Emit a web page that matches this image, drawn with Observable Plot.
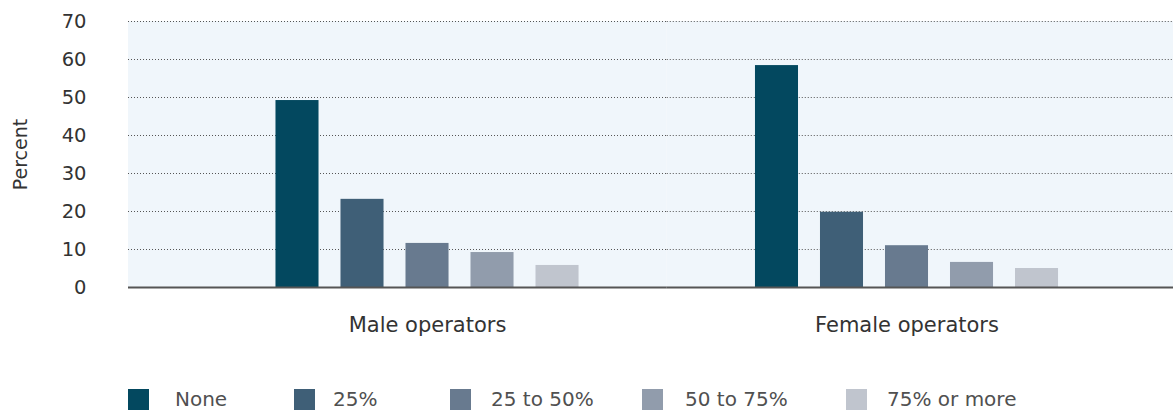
<!DOCTYPE html>
<html><head><meta charset="utf-8">
<script src="https://cdn.jsdelivr.net/npm/d3@7"></script>
<script src="https://cdn.jsdelivr.net/npm/@observablehq/plot@0.6"></script>
<style>
body{margin:0;background:#fff;font-family:"DejaVu Sans",sans-serif;}
#chart{position:relative;width:1173px;height:412px;overflow:hidden;}
#chart svg{position:absolute;left:0;top:0;overflow:visible;}
.legend{position:absolute;top:387px;left:128px;display:flex;align-items:center;font-size:20px;color:#505050;}
.item{display:flex;align-items:center;}
.sw{width:21px;height:21px;flex:none;}
</style></head><body><div id="chart"></div>
<script>
const groups = ["Male operators", "Female operators"];
const shares = ["None", "25%", "25 to 50%", "50 to 75%", "75% or more"];
const maleValues = [49.2, 23.2, 11.6, 9.2, 5.8];
const femaleValues = [58.4, 19.8, 11.0, 6.6, 5.0];
const colors = ["#03485f", "#3f5f77", "#687a8f", "#919cac", "#c0c5ce"];
const yTicks = [0, 10, 20, 30, 40, 50, 60, 70];
const yLabel = "Percent";

const data = [];
shares.forEach((s, i) => data.push({group: groups[0], share: s, value: maleValues[i]}));
shares.forEach((s, i) => data.push({group: groups[1], share: s, value: femaleValues[i]}));

// layout of the facet bands inside the frame (frame: 128..1173)
const W = 1173, ML = 128, MR = 0;
const fxPadOuter = 0.0897, fxAlign = 0.689;
const span = W - ML - MR;
const step = span / (2 + 2 * fxPadOuter);
const bandStart = ML + (span - 2 * step) * fxAlign;
const extLeft = bandStart - ML;
const extRight = (W - MR) - (bandStart + 2 * step);

const gridFor = (g) => yTicks.filter(d => d > 0).map(v => ({group: g, v}));
const baseFor = (g) => [{group: g, v: 0}];
const edgeInsets = (g) => ({
  insetLeft: g === groups[0] ? -extLeft : 0,
  insetRight: g === groups[1] ? -extRight : 0
});

const plot = Plot.plot({
  width: W,
  height: 350,
  marginTop: 21,
  marginBottom: 63,
  marginLeft: ML,
  marginRight: MR,
  style: {fontFamily: "'DejaVu Sans', sans-serif", background: "transparent"},
  fx: {domain: groups, paddingInner: 0, paddingOuter: fxPadOuter, align: fxAlign, axis: null, label: null, round: false},
  x: {domain: shares, axis: null, paddingInner: 0.338, paddingOuter: 1.357, align: 0.5, round: false},
  y: {domain: [0, 70], axis: null},
  color: {domain: shares, range: colors},
  marks: [
    ...groups.map(g => Plot.rect([{group: g}], Object.assign({fx: "group", fill: "#f0f6fb"}, edgeInsets(g)))),
    ...groups.map(g => Plot.ruleY(gridFor(g), Object.assign({fx: "group", y: "v", stroke: "#555", strokeWidth: 1.1, strokeDasharray: "1,2"}, edgeInsets(g)))),
    Plot.barY(data, {fx: "group", x: "share", y: "value", fill: "share"}),
    ...groups.map(g => Plot.ruleY(baseFor(g), Object.assign({fx: "group", y: "v", stroke: "#555", strokeWidth: 2.2}, edgeInsets(g)))),
    Plot.axisY({ticks: yTicks, tickSize: 0, tickPadding: extLeft + 42, fontSize: 19.5, fill: "#333", stroke: "#333", strokeWidth: 0.35, label: null}),
    Plot.text([{group: groups[0]}], {fx: "group", text: () => yLabel, frameAnchor: "left", textAnchor: "middle", rotate: -90, dx: 20 - bandStart, fontSize: 19, fill: "#333"}),
    Plot.axisFx({anchor: "bottom", tickSize: 0, tickPadding: 30, fontSize: 21, fill: "#333", stroke: "#333", strokeWidth: 0.35, label: null})
  ]
});
const chart = document.getElementById("chart");
chart.appendChild(plot);

const legend = document.createElement("div");
legend.className = "legend";
const itemWidths = [166, 156, 192, 204, null];
const textGaps = [26, 18, 20, 22, 20];
shares.forEach((s, i) => {
  const it = document.createElement("div");
  it.className = "item";
  if (itemWidths[i]) it.style.width = itemWidths[i] + "px";
  const sw = document.createElement("div");
  sw.className = "sw";
  sw.style.background = colors[i];
  const t = document.createElement("span");
  t.textContent = s;
  t.style.marginLeft = textGaps[i] + "px";
  it.appendChild(sw); it.appendChild(t);
  legend.appendChild(it);
});
chart.appendChild(legend);
</script></body></html>
